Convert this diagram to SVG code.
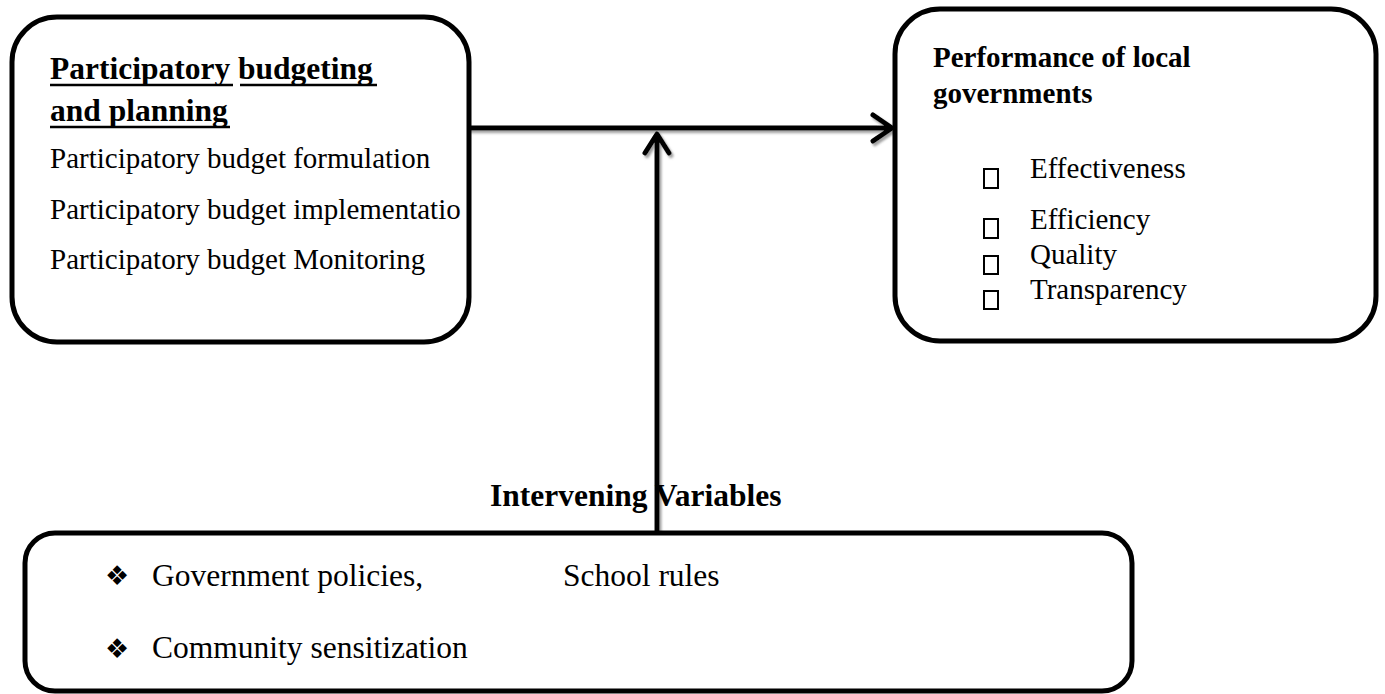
<svg xmlns="http://www.w3.org/2000/svg" width="1385" height="694" viewBox="0 0 1385 694">
<style>
.box{fill:#fff;stroke:#000;stroke-width:5}
.t{font-family:"Liberation Serif","Times New Roman",serif;fill:#000}
.b{font-weight:bold}
.ul{stroke:#000;stroke-width:2.5}
.cb{fill:none;stroke:#000;stroke-width:2}
.conn{fill:none;stroke:#000;stroke-width:5;stroke-linecap:round;stroke-linejoin:round}
.bul{font-family:"DejaVu Sans",sans-serif;font-size:27px;fill:#000}
</style>
<defs>
<filter id="sh" x="-5%" y="-5%" width="110%" height="110%">
<feDropShadow dx="2" dy="2.5" stdDeviation="0.8" flood-color="#888" flood-opacity="0.8"/>
</filter>
</defs>
<rect width="1385" height="694" fill="#fff"/>
<g id="connectors" filter="url(#sh)">
<path class="conn" d="M470 128 H891 M873 115 L892 128 L873 141"/>
<path class="conn" d="M657 533 V135 M645 153 L657 134 L669 153"/>
</g>
<g id="node-participatory">
<rect class="box" x="12" y="17" width="457" height="325" rx="45" ry="45"/>
<text class="t b" x="50" y="79" font-size="31.5">Participatory budgeting</text>
<line class="ul" x1="50" y1="85" x2="233" y2="85"/>
<line class="ul" x1="240" y1="85" x2="377" y2="85"/>
<text class="t b" x="50" y="121" font-size="31.5">and planning</text>
<line class="ul" x1="50" y1="127" x2="230" y2="127"/>
<text class="t" x="50" y="168" font-size="29">Participatory budget formulation</text>
<text class="t" x="50" y="219" font-size="29">Participatory budget implementatio</text>
<text class="t" x="50" y="269" font-size="29">Participatory budget Monitoring</text>
</g>
<g id="node-performance">
<rect class="box" x="895" y="9" width="481" height="332" rx="45" ry="45"/>
<text class="t b" x="933" y="67" font-size="29">Performance of local</text>
<text class="t b" x="933" y="103" font-size="29">governments</text>
<rect class="cb" x="984" y="169" width="14" height="19"/>
<text class="t" x="1030" y="178" font-size="29">Effectiveness</text>
<rect class="cb" x="984" y="219" width="14" height="19"/>
<text class="t" x="1030" y="229" font-size="29">Efficiency</text>
<rect class="cb" x="984" y="256" width="14" height="18"/>
<text class="t" x="1030" y="264" font-size="29">Quality</text>
<rect class="cb" x="984" y="291" width="14" height="18"/>
<text class="t" x="1030" y="299" font-size="29">Transparency</text>
</g>
<g id="node-intervening">
<text class="t b" x="490" y="506" font-size="31.5">Intervening Variables</text>
<rect class="box" x="25" y="533" width="1107" height="158" rx="30" ry="30"/>
<text class="bul" x="105" y="585">❖</text>
<text class="t" x="152" y="586" font-size="31.5">Government policies,</text>
<text class="t" x="563" y="586" font-size="31.5">School rules</text>
<text class="bul" x="105" y="658">❖</text>
<text class="t" x="152" y="658" font-size="31.5">Community sensitization</text>
</g>
</svg>
